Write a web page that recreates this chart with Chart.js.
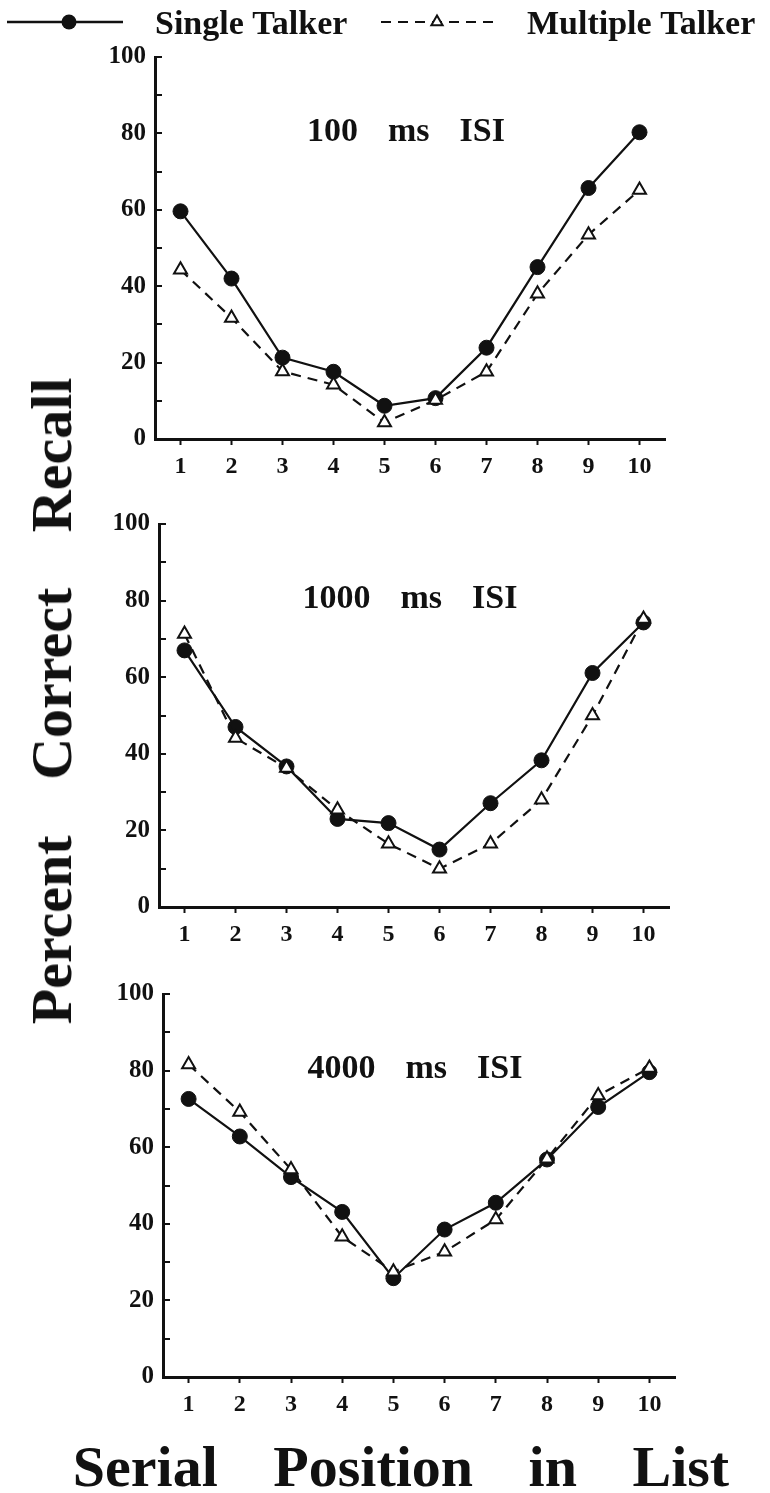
<!DOCTYPE html>
<html>
<head>
<meta charset="utf-8">
<script src="https://cdn.jsdelivr.net/npm/chart.js@4.4.0/dist/chart.umd.min.js"></script>
<style>
html,body{margin:0;padding:0;background:#fff;}
#wrap{position:relative;width:770px;height:1493px;overflow:hidden;background:#fff;}
canvas{position:absolute;left:0;}
.t{position:absolute;font-family:"Liberation Serif","Times New Roman",serif;font-weight:bold;color:#111;white-space:nowrap;line-height:1;font-size:58px;word-spacing:41px;}
</style>
</head>
<body>
<div id="wrap">
  <canvas id="c1" width="770" height="500" style="top:0px"></canvas>
  <canvas id="c2" width="770" height="470" style="top:500px"></canvas>
  <canvas id="c3" width="770" height="460" style="top:970px"></canvas>
  <div class="t" id="xtitle" style="left:401px;top:1438px;transform:translateX(-50%);">Serial Position in List</div>
  <div class="t" id="ytitle" style="left:52px;top:701px;transform:translate(-50%,-50%) rotate(-90deg);">Percent Correct Recall</div>
</div>
<script>
// ---- data ----
const positions = ['1','2','3','4','5','6','7','8','9','10'];
const seriesNames = ['Single Talker', 'Multiple Talker'];
const panelTitles = ['100 ms ISI', '1000 ms ISI', '4000 ms ISI'];
const yTickValues = [0, 20, 40, 60, 80, 100];

const single100  = [59.6, 42.0, 21.3, 17.6, 8.7, 10.7, 23.9, 45.0, 65.7, 80.3];
const multi100   = [44.3, 31.7, 17.7, 14.2, 4.3, 10.2, 17.6, 38.0, 53.5, 65.2];
const single1000 = [67.0, 47.0, 36.7, 23.0, 21.9, 15.0, 27.1, 38.3, 61.1, 74.3];
const multi1000  = [71.3, 44.1, 36.3, 25.4, 16.5, 10.0, 16.5, 28.0, 50.0, 75.2];
const single4000 = [72.6, 62.8, 52.2, 43.1, 25.8, 38.5, 45.5, 56.8, 70.5, 79.6];
const multi4000  = [81.6, 69.2, 54.2, 36.6, 27.5, 32.7, 41.1, 57.0, 73.5, 80.7];

// ---- styling / layout ----
const INK = '#111';
const FONT = '"Liberation Serif","Times New Roman",serif';
const Y_AXIS_W = 60, X_AXIS_H = 50;

const panels = [
  {id:'c1', canvasTop:0,   height:500, left:155, right:665, top:57,  bottom:439, single:single100,  multi:multi100,  title:panelTitles[0], legend:true},
  {id:'c2', canvasTop:500, height:470, left:159, right:669, top:523, bottom:907, single:single1000, multi:multi1000, title:panelTitles[1], legend:false},
  {id:'c3', canvasTop:970, height:460, left:163, right:675, top:990, bottom:1377, single:single4000, multi:multi4000, title:panelTitles[2], legend:false}
];

const innerTicks = {
  id:'innerTicks',
  afterDraw(chart){
    const ys = chart.scales.y; const ctx = chart.ctx;
    ctx.save(); ctx.strokeStyle = INK; ctx.lineWidth = 2;
    for (let v = ys.min; v <= ys.max; v += 10){
      const y = Math.round(ys.getPixelForValue(v));
      ctx.beginPath(); ctx.moveTo(ys.right, y); ctx.lineTo(ys.right + 7, y); ctx.stroke();
    }
    ctx.restore();
  }
};

const panelTitle = {
  id:'panelTitle',
  afterDatasetsDraw(chart, args, opts){
    const ctx = chart.ctx, a = chart.chartArea;
    const words = opts.text.split(' ');
    ctx.save();
    ctx.font = 'bold 34px ' + FONT;
    ctx.fillStyle = INK; ctx.textBaseline = 'alphabetic'; ctx.textAlign = 'left';
    const gap = 30;
    const widths = words.map(w => ctx.measureText(w).width);
    const total = widths.reduce((s,w)=>s+w,0) + gap*(words.length-1);
    let x = a.left + 0.492*(a.right - a.left) - total/2;
    const y = chart.scales.y.getPixelForValue(78);
    words.forEach((w,i)=>{ ctx.fillText(w, x, y); x += widths[i] + gap; });
    ctx.restore();
  }
};

const topLegend = {
  id:'topLegend',
  afterDraw(chart, args, opts){
    if (!opts.show) return;
    const ctx = chart.ctx; const ds = chart.data.datasets;
    const y = 22;
    ctx.save();
    ctx.strokeStyle = INK; ctx.lineWidth = 2.5;
    ctx.setLineDash([]);
    ctx.beginPath(); ctx.moveTo(7, y); ctx.lineTo(123, y); ctx.stroke();
    ctx.fillStyle = INK;
    ctx.beginPath(); ctx.arc(69, y, 7.5, 0, Math.PI*2); ctx.fill();
    ctx.lineWidth = 2;
    ctx.setLineDash(ds[1].borderDash);
    ctx.beginPath(); ctx.moveTo(381, y); ctx.lineTo(494, y); ctx.stroke();
    ctx.setLineDash([]);
    ctx.fillStyle = '#fff';
    Chart.helpers.drawPoint(ctx, {pointStyle:'triangle', radius:6.5, borderWidth:2}, 437, y);
    ctx.fillStyle = INK;
    ctx.font = 'bold 34px ' + FONT;
    ctx.textBaseline = 'alphabetic'; ctx.textAlign = 'left';
    ctx.fillText(ds[0].label, 155, 34);
    ctx.fillText(ds[1].label, 527, 34);
    ctx.restore();
  }
};

panels.forEach(p => {
  const ctx = document.getElementById(p.id).getContext('2d');
  new Chart(ctx, {
    type:'line',
    data:{
      labels: positions,
      datasets:[
        {label:seriesNames[0], data:p.single, order:1, borderColor:INK, borderWidth:2.2, tension:0,
         pointStyle:'circle', pointRadius:7.5, pointBackgroundColor:INK, pointBorderColor:INK, pointBorderWidth:1, fill:false},
        {label:seriesNames[1], data:p.multi, order:0, borderColor:INK, borderWidth:2.2, borderDash:[10,7], tension:0,
         pointStyle:'triangle', pointRadius:7.5, pointBackgroundColor:'#fff', pointBorderColor:INK, pointBorderWidth:2, fill:false}
      ]
    },
    options:{
      responsive:false, animation:false, devicePixelRatio:1,
      layout:{padding:{
        left: p.left - Y_AXIS_W,
        right: 770 - p.right,
        top: p.top - p.canvasTop,
        bottom: p.canvasTop + p.height - p.bottom - X_AXIS_H
      }},
      plugins:{legend:{display:false}, tooltip:{enabled:false},
        panelTitle:{text:p.title}, topLegend:{show:p.legend}},
      scales:{
        x:{
          type:'category', offset:true,
          grid:{display:true, drawOnChartArea:false, drawTicks:true, tickLength:6, tickWidth:2, tickColor:INK, offset:false},
          border:{display:true, color:INK, width:3},
          ticks:{color:INK, padding:7, font:{family:FONT, weight:'bold', size:24}, maxRotation:0, autoSkip:false},
          afterFit(s){ s.height = X_AXIS_H; }
        },
        y:{
          min:0, max:100,
          afterBuildTicks(s){ s.ticks = yTickValues.map(v => ({value:v})); },
          grid:{display:true, drawOnChartArea:false, drawTicks:false},
          border:{display:true, color:INK, width:3},
          ticks:{color:INK, padding:9, font:{family:FONT, weight:'bold', size:25}},
          afterFit(s){ s.width = Y_AXIS_W; }
        }
      }
    },
    plugins:[innerTicks, panelTitle, topLegend]
  });
});
</script>
</body>
</html>
